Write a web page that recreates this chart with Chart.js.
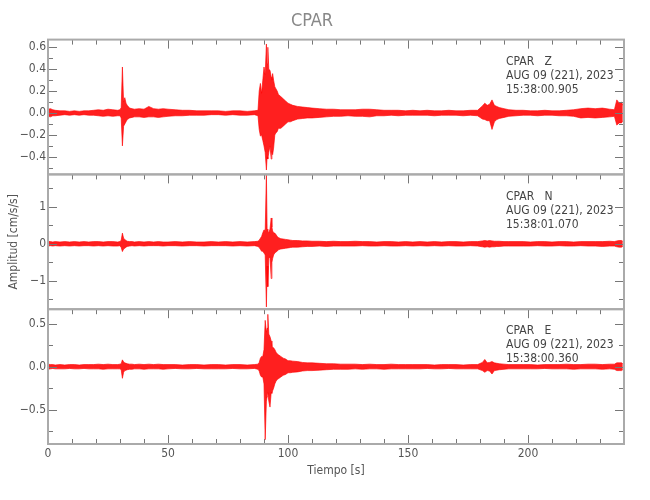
<!DOCTYPE html>
<html>
<head>
<meta charset="utf-8">
<script src="https://cdn.jsdelivr.net/npm/chart.js@4.4.0/dist/chart.umd.min.js"></script>
<style>
  body { margin: 0; background: #fff; }
</style>
</head>
<body>
<canvas id="sismo" width="650" height="500"></canvas>
<script>
// tiempo [s] de cada muestra de la envolvente
const tiempo = [
    0, 1, 2, 3, 5, 7, 9, 11, 13, 15,
    17, 19, 21, 23, 25, 27, 29, 30, 30.5, 31,
    31.5, 32, 32.5, 33, 34, 35, 36, 38, 40, 42,
    44, 46, 48, 50, 53, 56, 59, 62, 65, 68,
    71, 74, 77, 80, 83, 86, 87.5, 88, 88.5, 89,
    89.5, 90, 90.5, 91, 91.3, 91.6, 92, 92.5, 93, 93.3,
    93.6, 94, 94.5, 95, 95.5, 96, 97, 98, 99, 100,
    101, 102, 104, 106, 108, 110, 113, 116, 119, 122,
    125, 128, 131, 134, 137, 140, 143, 146, 149, 152,
    155, 158, 161, 164, 167, 170, 173, 176, 179, 181,
    182, 183, 184, 185, 186, 187, 188, 190, 192, 195,
    198, 201, 204, 207, 210, 213, 216, 219, 222, 225,
    228, 231, 234, 236, 237, 238, 239, 239.5
]

// componente Z
const zMax = [
    0.035, 0.04, 0.03, 0.025, 0.02, 0.02, 0.015, 0.02, 0.015, 0.02,
    0.02, 0.025, 0.03, 0.025, 0.035, 0.03, 0.025, 0.03, 0.05, 0.42,
    0.1, 0.14, 0.09, 0.07, 0.045, 0.04, 0.035, 0.04, 0.035, 0.06,
    0.04, 0.035, 0.04, 0.035, 0.03, 0.025, 0.025, 0.02, 0.02, 0.02,
    0.02, 0.015, 0.02, 0.02, 0.015, 0.02, 0.025, 0.2, 0.27, 0.18,
    0.3, 0.42, 0.35, 0.63, 0.45, 0.6, 0.4, 0.39, 0.33, 0.3,
    0.36, 0.3, 0.24, 0.22, 0.2, 0.17, 0.15, 0.13, 0.11, 0.09,
    0.08, 0.07, 0.06, 0.055, 0.05, 0.045, 0.04, 0.035, 0.035, 0.03,
    0.03, 0.03, 0.035, 0.035, 0.03, 0.025, 0.025, 0.025, 0.02, 0.025,
    0.02, 0.025, 0.02, 0.02, 0.025, 0.02, 0.02, 0.025, 0.025, 0.065,
    0.09, 0.07, 0.08, 0.12, 0.07, 0.06, 0.05, 0.04, 0.03, 0.025,
    0.025, 0.02, 0.02, 0.025, 0.02, 0.02, 0.025, 0.03, 0.04, 0.045,
    0.04, 0.045, 0.035, 0.03, 0.12, 0.09, 0.1, 0.07
]
const zMin = [
    -0.03, -0.035, -0.025, -0.025, -0.02, -0.015, -0.02, -0.015, -0.02, -0.015,
    -0.02, -0.02, -0.025, -0.03, -0.025, -0.03, -0.025, -0.025, -0.045, -0.3,
    -0.12, -0.1, -0.08, -0.06, -0.045, -0.04, -0.035, -0.035, -0.04, -0.035,
    -0.035, -0.04, -0.035, -0.03, -0.025, -0.025, -0.02, -0.02, -0.02, -0.015,
    -0.015, -0.02, -0.015, -0.02, -0.02, -0.015, -0.025, -0.15, -0.21, -0.2,
    -0.25, -0.3, -0.36, -0.52, -0.4, -0.42, -0.36, -0.3, -0.42, -0.35,
    -0.38, -0.32, -0.2, -0.18, -0.17, -0.14, -0.14, -0.12, -0.1, -0.08,
    -0.08, -0.07, -0.055, -0.05, -0.045, -0.045, -0.04, -0.035, -0.03, -0.03,
    -0.025, -0.03, -0.03, -0.035, -0.025, -0.025, -0.02, -0.025, -0.02, -0.02,
    -0.02, -0.02, -0.025, -0.02, -0.02, -0.02, -0.025, -0.02, -0.025, -0.055,
    -0.06, -0.07, -0.07, -0.15, -0.08, -0.06, -0.05, -0.04, -0.03, -0.025,
    -0.02, -0.02, -0.025, -0.02, -0.02, -0.025, -0.025, -0.03, -0.045, -0.04,
    -0.045, -0.04, -0.035, -0.03, -0.11, -0.09, -0.09, -0.07
]

// componente N
const nMax = [
    0.07, 0.06, 0.05, 0.06, 0.05, 0.06, 0.05, 0.06, 0.05, 0.06,
    0.05, 0.06, 0.06, 0.05, 0.06, 0.06, 0.05, 0.06, 0.1, 0.29,
    0.15, 0.12, 0.09, 0.07, 0.06, 0.06, 0.05, 0.06, 0.05, 0.06,
    0.05, 0.06, 0.05, 0.05, 0.06, 0.05, 0.06, 0.05, 0.05, 0.06,
    0.05, 0.06, 0.05, 0.06, 0.05, 0.06, 0.07, 0.1, 0.15, 0.2,
    0.3, 0.38, 0.35, 1.9, 0.4, 0.35, 0.3, 0.4, 0.7, 0.45,
    0.35, 0.3, 0.29, 0.25, 0.2, 0.17, 0.14, 0.13, 0.12, 0.11,
    0.1, 0.09, 0.09, 0.08, 0.08, 0.07, 0.07, 0.06, 0.07, 0.06,
    0.06, 0.07, 0.06, 0.06, 0.05, 0.06, 0.06, 0.05, 0.06, 0.05,
    0.06, 0.05, 0.06, 0.05, 0.06, 0.06, 0.05, 0.06, 0.06, 0.08,
    0.09, 0.08, 0.09, 0.08, 0.07, 0.07, 0.07, 0.06, 0.06, 0.06,
    0.06, 0.05, 0.06, 0.06, 0.05, 0.06, 0.06, 0.05, 0.06, 0.06,
    0.06, 0.06, 0.07, 0.06, 0.08, 0.09, 0.09, 0.07
]
const nMin = [
    -0.06, -0.05, -0.06, -0.05, -0.06, -0.05, -0.06, -0.05, -0.06, -0.05,
    -0.05, -0.06, -0.05, -0.06, -0.05, -0.06, -0.06, -0.05, -0.1, -0.21,
    -0.14, -0.12, -0.09, -0.07, -0.06, -0.05, -0.06, -0.05, -0.06, -0.05,
    -0.05, -0.05, -0.06, -0.05, -0.05, -0.06, -0.05, -0.05, -0.06, -0.05,
    -0.05, -0.05, -0.06, -0.05, -0.06, -0.05, -0.07, -0.1, -0.15, -0.2,
    -0.2, -0.25, -0.3, -1.71, -0.6, -1.16, -0.4, -0.35, -0.94, -0.5,
    -0.4, -0.3, -0.25, -0.22, -0.2, -0.16, -0.14, -0.13, -0.12, -0.11,
    -0.1, -0.09, -0.09, -0.08, -0.07, -0.07, -0.06, -0.07, -0.06, -0.06,
    -0.06, -0.06, -0.05, -0.06, -0.06, -0.05, -0.06, -0.06, -0.05, -0.06,
    -0.05, -0.06, -0.05, -0.06, -0.05, -0.06, -0.06, -0.05, -0.06, -0.08,
    -0.09, -0.08, -0.09, -0.08, -0.08, -0.07, -0.07, -0.06, -0.06, -0.06,
    -0.06, -0.06, -0.05, -0.06, -0.06, -0.05, -0.06, -0.06, -0.05, -0.06,
    -0.06, -0.07, -0.06, -0.06, -0.08, -0.09, -0.09, -0.07
]

// componente E
const eMax = [
    0.03, 0.025, 0.025, 0.02, 0.025, 0.02, 0.025, 0.025, 0.02, 0.025,
    0.025, 0.025, 0.03, 0.025, 0.03, 0.025, 0.025, 0.03, 0.035, 0.08,
    0.055, 0.045, 0.04, 0.035, 0.03, 0.03, 0.025, 0.03, 0.025, 0.03,
    0.025, 0.03, 0.025, 0.025, 0.025, 0.02, 0.025, 0.025, 0.02, 0.025,
    0.025, 0.02, 0.025, 0.025, 0.02, 0.025, 0.03, 0.05, 0.1, 0.12,
    0.12, 0.2, 0.54, 0.4, 0.45, 0.61, 0.38, 0.35, 0.3, 0.24,
    0.23, 0.22, 0.2, 0.17, 0.15, 0.14, 0.12, 0.1, 0.09, 0.07,
    0.07, 0.065, 0.06, 0.05, 0.045, 0.045, 0.04, 0.035, 0.035, 0.03,
    0.03, 0.03, 0.025, 0.03, 0.025, 0.025, 0.03, 0.025, 0.025, 0.025,
    0.025, 0.025, 0.02, 0.025, 0.025, 0.025, 0.02, 0.025, 0.025, 0.05,
    0.085, 0.045, 0.05, 0.06, 0.045, 0.04, 0.035, 0.03, 0.025, 0.025,
    0.025, 0.025, 0.02, 0.025, 0.025, 0.025, 0.03, 0.025, 0.025, 0.03,
    0.03, 0.025, 0.03, 0.03, 0.045, 0.045, 0.045, 0.035
]
const eMin = [
    -0.03, -0.025, -0.02, -0.025, -0.025, -0.025, -0.02, -0.025, -0.025, -0.02,
    -0.025, -0.025, -0.025, -0.03, -0.025, -0.025, -0.025, -0.025, -0.035, -0.135,
    -0.065, -0.045, -0.04, -0.035, -0.03, -0.03, -0.025, -0.025, -0.03, -0.025,
    -0.025, -0.025, -0.03, -0.025, -0.02, -0.025, -0.025, -0.02, -0.025, -0.025,
    -0.025, -0.025, -0.02, -0.025, -0.025, -0.02, -0.03, -0.05, -0.1, -0.12,
    -0.12, -0.2, -0.85, -0.4, -0.35, -0.3, -0.4, -0.47, -0.3, -0.31,
    -0.28, -0.25, -0.2, -0.17, -0.15, -0.14, -0.12, -0.1, -0.09, -0.07,
    -0.07, -0.065, -0.06, -0.05, -0.045, -0.045, -0.04, -0.035, -0.03, -0.03,
    -0.03, -0.025, -0.03, -0.025, -0.025, -0.03, -0.025, -0.025, -0.025, -0.025,
    -0.025, -0.02, -0.025, -0.025, -0.02, -0.025, -0.025, -0.025, -0.025, -0.045,
    -0.065, -0.045, -0.05, -0.085, -0.045, -0.04, -0.035, -0.03, -0.025, -0.025,
    -0.025, -0.025, -0.025, -0.02, -0.025, -0.025, -0.025, -0.03, -0.025, -0.025,
    -0.025, -0.03, -0.025, -0.03, -0.045, -0.045, -0.045, -0.035
]

// ejes
const xTicks = [0, 50, 100, 150, 200]
const zTicks = [-0.4, -0.2, 0, 0.2, 0.4, 0.6]
const nTicks = [-1, 0, 1]
const eTicks = [-0.5, 0, 0.5]
const zRango = [-0.56, 0.67]
const nRango = [-1.77, 1.88]
const eRango = [-0.90, 0.67]

const estacion = 'CPAR'
const componentes = ['Z', 'N', 'E']
const fecha = 'AUG 09 (221), 2023'
const horas = ['15:38:00.905', '15:38:01.070', '15:38:00.360']

const FUENTE = '"DejaVu Sans Condensed", "DejaVu Sans", sans-serif'
const ROJO = '#ff0000'

function serie(vals) {
    return tiempo.map((t, i) => ({x: t, y: vals[i]}))
}

function envolvente(hi, lo, eje) {
    const base = {
        yAxisID: eje,
        borderColor: 'rgba(255,0,0,0.8)',
        borderWidth: 0.8,
        pointRadius: 0,
        tension: 0,
    }
    return [
        Object.assign({data: serie(hi), fill: '+1', backgroundColor: 'rgba(255,0,0,0.88)'}, base),
        Object.assign({data: serie(lo), fill: false}, base),
    ]
}

function etiqueta(v, dec) {
    const s = Math.abs(v).toFixed(dec)
    return v < 0 ? '\u2212' + s : s
}

function ejeY(rango, marcas, dec, titulo) {
    return {
        type: 'linear',
        position: 'left',
        stack: 'sismo',
        stackWeight: 1,
        min: rango[0],
        max: rango[1],
        afterBuildTicks: (s) => { s.ticks = marcas.map(v => ({value: v})) },
        afterFit: (s) => { s.width = 48 },
        grid: {display: false, drawTicks: false},
        border: {display: false},
        ticks: {
            autoSkip: false,
            padding: 2,
            color: '#555',
            font: {family: FUENTE, size: 12},
            callback: (v) => etiqueta(v, dec),
        },
        title: {
            display: !!titulo,
            text: titulo || '',
            color: '#555',
            font: {family: FUENTE, size: 12},
            padding: {top: 7, bottom: 0},
        },
    }
}

// marco de cada panel con marcas hacia adentro
const menores = {yZ: [0.1, 0.2], yN: [0.5, 1], yE: [0.25, 0.5]}

const marco = {
    id: 'marco',
    afterDatasetsDraw(chart) {
        const ctx = chart.ctx
        const x = chart.scales.x
        ctx.save()
        ;['yZ', 'yN', 'yE'].forEach((id, i) => {
            const y = chart.scales[id]
            ctx.strokeStyle = '#777'
            ctx.lineWidth = 1
            ctx.beginPath()
            for (let t = 0; t <= 240; t += 10) {
                const px = Math.round(x.getPixelForValue(t)) + 0.5
                const len = t % 50 === 0 ? 9 : 5
                ctx.moveTo(px, y.top)
                ctx.lineTo(px, y.top + len)
                if (i === 2) {
                    ctx.moveTo(px, y.bottom)
                    ctx.lineTo(px, y.bottom - len)
                }
            }
            const [paso, mayor] = menores[id]
            for (let k = Math.ceil(y.min / paso); k * paso <= y.max; k++) {
                const v = k * paso
                const py = Math.round(y.getPixelForValue(v)) + 0.5
                const len = Math.abs(v / mayor - Math.round(v / mayor)) < 1e-6 ? 9 : 5
                ctx.moveTo(x.left, py)
                ctx.lineTo(x.left + len, py)
                ctx.moveTo(x.right, py)
                ctx.lineTo(x.right - len, py)
            }
            ctx.stroke()
            ctx.strokeStyle = '#aaa'
            ctx.lineWidth = 2
            ctx.strokeRect(x.left, y.top, x.right - x.left, y.bottom - y.top)

            ctx.fillStyle = '#444'
            ctx.font = '12px ' + FUENTE
            ctx.textBaseline = 'middle'
            ctx.textAlign = 'left'
            const tx = x.right - 118
            ctx.fillText(estacion + '   ' + componentes[i], tx, y.top + 22)
            ctx.fillText(fecha, tx, y.top + 36)
            ctx.fillText(horas[i], tx, y.top + 50)
        })
        ctx.restore()
    }
}

const ctx = document.getElementById('sismo').getContext('2d')
new Chart(ctx, {
    type: 'line',
    data: {
        datasets: [
            ...envolvente(zMax, zMin, 'yZ'),
            ...envolvente(nMax, nMin, 'yN'),
            ...envolvente(eMax, eMin, 'yE'),
        ]
    },
    options: {
        responsive: false,
        animation: false,
        layout: {padding: {left: 0, right: 26, top: 0, bottom: 0}},
        plugins: {
            legend: {display: false},
            tooltip: {enabled: false},
            title: {
                display: true,
                text: estacion,
                color: '#888',
                font: {family: FUENTE, size: 18, weight: 'normal'},
                padding: {top: 11, bottom: 7},
            },
        },
        scales: {
            x: {
                type: 'linear',
                position: 'bottom',
                min: 0,
                max: 240,
                afterBuildTicks: (s) => { s.ticks = xTicks.map(v => ({value: v})) },
                afterFit: (s) => { s.height = 56 },
                grid: {display: false, drawTicks: false},
                border: {display: false},
                ticks: {autoSkip: false, padding: 3, color: '#555', font: {family: FUENTE, size: 12}, maxRotation: 0},
                title: {
                    display: true,
                    text: 'Tiempo [s]',
                    color: '#555',
                    font: {family: FUENTE, size: 12},
                    padding: {top: 0, bottom: 22},
                },
            },
            // el primero queda abajo en la pila
            yE: ejeY(eRango, eTicks, 1),
            yN: ejeY(nRango, nTicks, 0, 'Amplitud [cm/s/s]'),
            yZ: ejeY(zRango, zTicks, 1),
        }
    },
    plugins: [marco]
})
</script>
</body>
</html>
